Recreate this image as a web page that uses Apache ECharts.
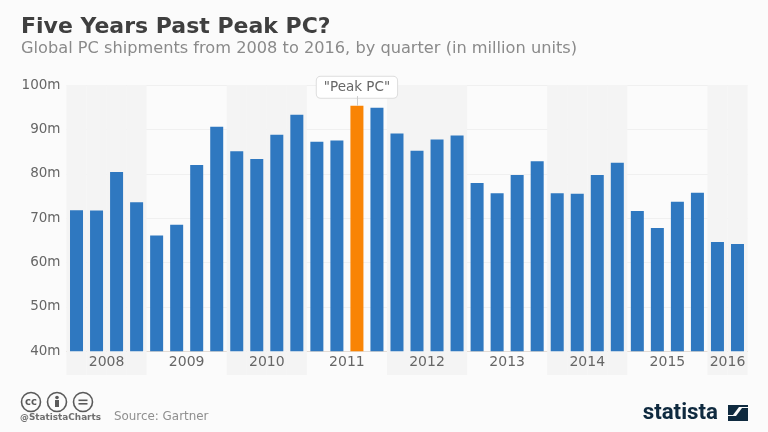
<!DOCTYPE html>
<html><head><meta charset="utf-8">
<style>html,body{margin:0;padding:0;background:#fbfbfb}#c{width:768px;height:432px}</style>
<script src="https://cdn.jsdelivr.net/npm/echarts@6/dist/echarts.min.js"></script>
</head><body><div id="c"></div>
<script>
const quarters = ["Q1 08","Q2 08","Q3 08","Q4 08","Q1 09","Q2 09","Q3 09","Q4 09","Q1 10","Q2 10","Q3 10","Q4 10","Q1 11","Q2 11","Q3 11","Q4 11","Q1 12","Q2 12","Q3 12","Q4 12","Q1 13","Q2 13","Q3 13","Q4 13","Q1 14","Q2 14","Q3 14","Q4 14","Q1 15","Q2 15","Q3 15","Q4 15","Q1 16","Q2 16"];
const shipments = [71.8,71.7,80.4,73.6,66.1,68.5,82,90.6,85.1,83.3,88.8,93.3,87.2,87.5,95.3,94.9,89.1,85.2,87.7,88.6,77.9,75.6,79.7,82.8,75.6,75.5,79.7,82.5,71.6,67.8,73.7,75.7,64.6,64.2];
const yearLabels = ["2008","2009","2010","2011","2012","2013","2014","2015","2016"];
const yearCentres = [2,6,10,14,18,22,26,30,33];
const shadedQuarter = [1,1,1,1,0,0,0,0,1,1,1,1,0,0,0,0,1,1,1,1,0,0,0,0,1,1,1,1,0,0,0,0,1,1];
const peakIndex = 14;
const peakLabel = '"Peak PC"';
const title = "Five Years Past Peak PC?";
const subtitle = "Global PC shipments from 2008 to 2016, by quarter (in million units)";
const source = "Source: Gartner";
const handle = "@StatistaCharts";
const font = "DejaVu Sans";
const chart = echarts.init(document.getElementById('c'), null, {renderer:'canvas'});
const ccIcon = (cx, inner) => ({type:'group', silent:true, children:[
  {type:'circle', shape:{cx, cy:402, r:9.5}, style:{fill:'none', stroke:'#5a5a5a', lineWidth:1.6}}, ...inner]});
chart.setOption({
  animation:false,
  backgroundColor:'#fbfbfb',
  textStyle:{fontFamily:font},
  grid:[
    {left:66.5, right:20.5, top:85, height:290, z:0},
    {left:66.5, right:20.5, top:85, height:266.3, z:2}
  ],
  xAxis:[
    {type:'category', gridIndex:0, data:quarters, show:false, boundaryGap:true},
    {type:'category', gridIndex:1, data:quarters, show:true, boundaryGap:true,
      axisLine:{show:true, lineStyle:{color:'#e3dcd6', width:1}}, axisTick:{show:false}, axisLabel:{show:false}, splitLine:{show:false}},
    {type:'value', gridIndex:1, min:0, max:34, position:'bottom', splitLine:{show:false}, axisLine:{show:false}, axisTick:{show:false},
      axisLabel:{customValues:yearCentres, margin:4, fontSize:14, color:'#666', fontFamily:font,
        formatter:v=>yearLabels[yearCentres.indexOf(v)]}}
  ],
  yAxis:[
    {type:'value', gridIndex:0, min:0, max:1, show:false},
    {type:'value', gridIndex:1, min:40, max:100, interval:10,
      axisLine:{show:false}, axisTick:{show:false},
      axisLabel:{margin:6, fontSize:13.5, color:'#666', fontFamily:font, padding:[2,0,0,0], formatter:v=>v+'m'},
      splitLine:{lineStyle:{color:'#f0f0f0', width:1}}}
  ],
  series:[
    {type:'bar', xAxisIndex:0, yAxisIndex:0, data:shadedQuarter, barWidth:'100%', silent:true, z:0,
      itemStyle:{color:'#f4f4f4'}},
    {type:'bar', xAxisIndex:1, yAxisIndex:1, barWidth:13, z:3,
      data:shipments.map((v,i)=> i===peakIndex ? {value:v, itemStyle:{color:'#f98404'},
        label:{show:true, position:'top', distance:8, formatter:peakLabel, color:'#666', fontSize:13.5, fontFamily:font,
          backgroundColor:'#fff', borderColor:'#ddd', borderWidth:1, borderRadius:4, padding:[4,7,3,7]}} : v),
      itemStyle:{color:'#2f78c0'},
      markLine:{silent:true, symbol:'none', label:{show:false}, lineStyle:{color:'#ccc', width:1, type:'solid'},
        data:[[{coord:[peakIndex,shipments[peakIndex]]},{coord:[peakIndex,97.5]}]]}}
  ],
  graphic:[
    {type:'text', left:21, top:16, style:{text:title, font:'bold 22px "DejaVu Sans"', fill:'#3f3f3f'}},
    {type:'text', left:21, top:41, style:{text:subtitle, font:'16.2px "DejaVu Sans"', fill:'#8a8a8a'}},
    ccIcon(31,[{type:'text', x:31, y:402, style:{text:'cc', font:'bold 10px "DejaVu Sans"', fill:'#5a5a5a', align:'center', verticalAlign:'middle'}}]),
    ccIcon(57,[{type:'circle', shape:{cx:57, cy:397.5, r:1.8}, style:{fill:'#5a5a5a'}},{type:'rect', shape:{x:55, y:400, width:4, height:7}, style:{fill:'#5a5a5a'}}]),
    ccIcon(83,[{type:'rect', shape:{x:78.5, y:399.5, width:9, height:1.6}, style:{fill:'#5a5a5a'}},{type:'rect', shape:{x:78.5, y:403, width:9, height:1.6}, style:{fill:'#5a5a5a'}}]),
    {type:'text', left:20, top:413, style:{text:handle, font:'bold 8.9px "DejaVu Sans"', fill:'#6f6f6f'}},
    {type:'text', left:114, top:411, style:{text:source, font:'11.9px "DejaVu Sans"', fill:'#8f8f8f'}},
    {type:'text', right:50, top:402, style:{text:'statista', font:'bold 22.3px "Roboto"', fill:'#0f2a3f'}},
    {type:'polygon', shape:{points:[[728,405],[748,405],[748,407],[739,407],[733,415],[728,415]]}, style:{fill:'#0f2a3f'}},
    {type:'polygon', shape:{points:[[728,421],[748,421],[748,408],[742,408],[736,416],[728,416]]}, style:{fill:'#0f2a3f'}}
  ]
});
</script></body></html>
